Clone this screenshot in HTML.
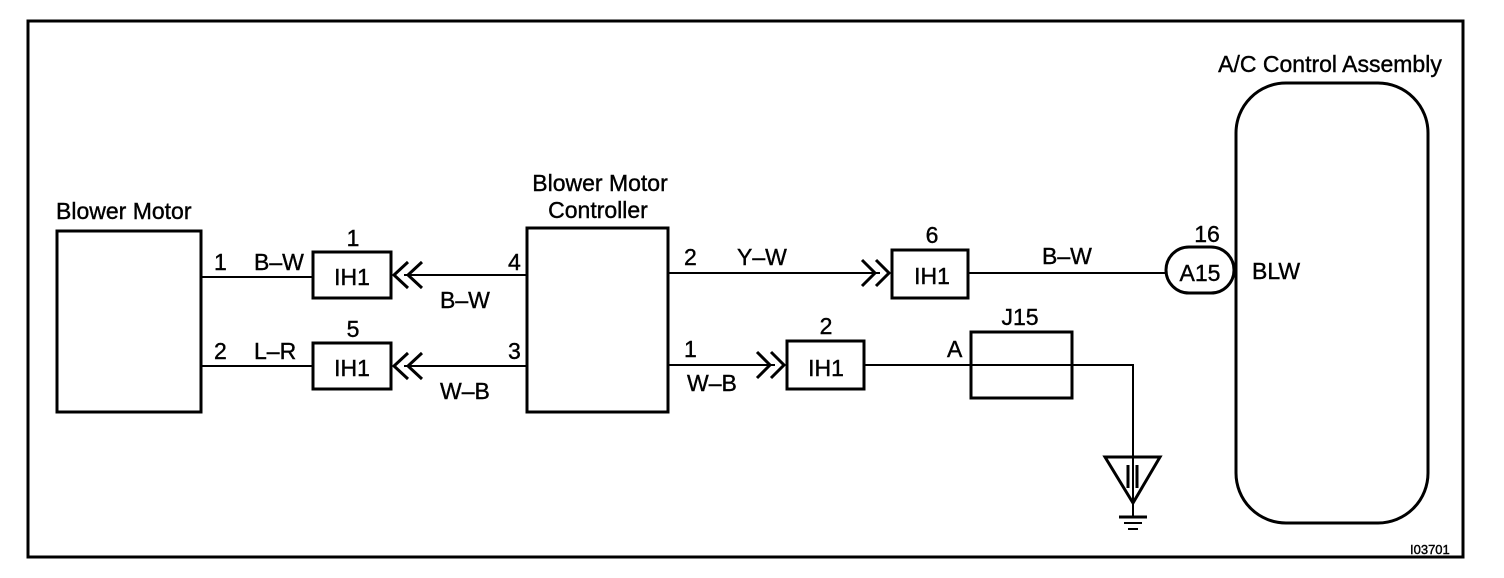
<!DOCTYPE html>
<html><head><style>html,body{margin:0;padding:0;background:#fff}svg{display:block}text{font-family:"Liberation Sans",Arial,sans-serif;fill:#000;stroke:#000;stroke-width:0.4}</style></head>
<body>
<svg width="1504" height="578" viewBox="0 0 1504 578" xmlns="http://www.w3.org/2000/svg">
<g fill="none" stroke="#000" stroke-width="3">
<rect x="28" y="21" width="1435" height="536"/>
<rect x="57" y="231" width="144" height="181"/>
<rect x="527" y="228" width="141" height="184"/>
<rect x="313" y="252" width="78" height="46"/>
<rect x="313" y="343" width="78" height="46"/>
<rect x="892" y="250" width="76" height="48"/>
<rect x="787" y="341" width="77" height="48"/>
<rect x="971" y="332" width="101" height="66"/>
<rect x="1236" y="83" width="192" height="440" rx="50"/>
<rect x="1166" y="247" width="68" height="46" rx="23"/>
<polygon points="1105,457 1160,457 1133,503"/>
</g>
<g fill="none" stroke="#000" stroke-width="2">
<line x1="201" y1="277" x2="313" y2="277"/>
<line x1="201" y1="366" x2="313" y2="366"/>
<line x1="404" y1="275" x2="527" y2="275"/>
<line x1="404" y1="366" x2="527" y2="366"/>
<polyline points="408,262 394,275 408,288" stroke-width="3"/>
<polyline points="422,262 408,275 422,288" stroke-width="3"/>
<polyline points="408,353 394,366 408,379" stroke-width="3"/>
<polyline points="422,353 408,366 422,379" stroke-width="3"/>
<line x1="668" y1="273" x2="880" y2="273"/>
<polyline points="862,260 875,273 862,286" stroke-width="3"/>
<polyline points="876,260 889,273 876,286" stroke-width="3"/>
<line x1="968" y1="273" x2="1166" y2="273"/>
<line x1="668" y1="365" x2="775" y2="365"/>
<polyline points="757,352 770,365 757,378" stroke-width="3"/>
<polyline points="771,352 784,365 771,378" stroke-width="3"/>
<polyline points="864,365 1133,365 1133,503" />
<line x1="1133" y1="503" x2="1133" y2="516"/>
<line x1="1119" y1="517" x2="1147" y2="517" stroke-width="3"/>
<line x1="1124" y1="523" x2="1142" y2="523" stroke-width="2"/>
<line x1="1128" y1="529" x2="1138" y2="529" stroke-width="2"/>
<line x1="1128" y1="465" x2="1128" y2="488" stroke-width="3"/>
<line x1="1137" y1="465" x2="1137" y2="488" stroke-width="3"/>
</g>
<g font-size="23">
<text x="56" y="219">Blower Motor</text>
<text x="600" y="191" text-anchor="middle">Blower Motor</text>
<text x="598" y="218" text-anchor="middle">Controller</text>
<text x="1330" y="72" text-anchor="middle">A/C Control Assembly</text>
<text x="214" y="270">1</text>
<text x="254" y="270">B–W</text>
<text x="214" y="359">2</text>
<text x="254" y="359">L–R</text>
<text x="353" y="246" text-anchor="middle">1</text>
<text x="353" y="337" text-anchor="middle">5</text>
<text x="352" y="285" text-anchor="middle">IH1</text>
<text x="352" y="376" text-anchor="middle">IH1</text>
<text x="440" y="308">B–W</text>
<text x="440" y="399">W–B</text>
<text x="508" y="270">4</text>
<text x="508" y="359">3</text>
<text x="684" y="265">2</text>
<text x="737" y="265">Y–W</text>
<text x="684" y="357">1</text>
<text x="687" y="391">W–B</text>
<text x="932" y="243" text-anchor="middle">6</text>
<text x="932" y="284" text-anchor="middle">IH1</text>
<text x="826" y="334" text-anchor="middle">2</text>
<text x="826" y="376" text-anchor="middle">IH1</text>
<text x="1042" y="264">B–W</text>
<text x="947" y="357">A</text>
<text x="1020" y="325" text-anchor="middle">J15</text>
<text x="1207" y="242" text-anchor="middle">16</text>
<text x="1200" y="281" text-anchor="middle">A15</text>
<text x="1252" y="279">BLW</text>
</g>
<text x="1410" y="554" font-size="13">I03701</text>
</svg>
</body></html>
